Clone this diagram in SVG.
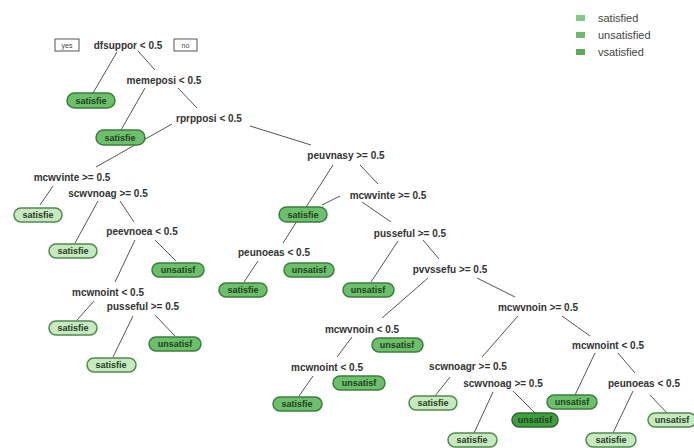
<svg xmlns="http://www.w3.org/2000/svg" width="694" height="448" viewBox="0 0 694 448">
<style>
.sp{font-family:"Liberation Sans",Arial,sans-serif;font-size:10px;font-weight:bold;fill:#333;text-anchor:middle}
.lf{font-family:"Liberation Sans",Arial,sans-serif;font-size:9px;font-weight:bold;fill:#1f3f1f;text-anchor:middle}
.mid{fill:#6cc06c;stroke:#3d7d3d;stroke-width:1.5}
.lt{fill:#c8e8c0;stroke:#4f8a4f;stroke-width:1.5}
.dk{fill:#3f9f3f;stroke:#2d6a2d;stroke-width:1.5}
.yn{fill:#fff;stroke:#555;stroke-width:1}
.ynt{font-family:"Liberation Sans",Arial,sans-serif;font-size:7px;fill:#444;text-anchor:middle}
.lg{font-family:"Liberation Sans",Arial,sans-serif;font-size:11px;fill:#444}
#edges line{stroke:#555;stroke-width:1}
</style>
<rect width="694" height="448" fill="#fff"/>
<g id="edges">
<line x1="117" y1="52" x2="93" y2="93"/>
<line x1="138" y1="51" x2="155" y2="70"/>
<line x1="145" y1="88" x2="121" y2="130"/>
<line x1="178" y1="88" x2="197" y2="108"/>
<line x1="172" y1="124" x2="96" y2="167"/>
<line x1="250" y1="126" x2="311" y2="145"/>
<line x1="53" y1="186" x2="40" y2="205"/>
<line x1="98" y1="201" x2="75" y2="243"/>
<line x1="120" y1="201" x2="134" y2="222"/>
<line x1="135" y1="240" x2="115" y2="282"/>
<line x1="155" y1="240" x2="176" y2="261"/>
<line x1="94" y1="301" x2="77" y2="320"/>
<line x1="133" y1="316" x2="113" y2="357"/>
<line x1="155" y1="315" x2="175" y2="336"/>
<line x1="333" y1="165" x2="283" y2="243"/>
<line x1="340" y1="196" x2="322" y2="205"/>
<line x1="360" y1="165" x2="378" y2="184"/>
<line x1="362" y1="202" x2="391" y2="222"/>
<line x1="258" y1="261" x2="244" y2="282"/>
<line x1="398" y1="241" x2="371" y2="282"/>
<line x1="423" y1="240" x2="439" y2="259"/>
<line x1="428" y1="278" x2="382" y2="318"/>
<line x1="477" y1="278" x2="515" y2="297"/>
<line x1="352" y1="337" x2="337" y2="357"/>
<line x1="313" y1="376" x2="299" y2="396"/>
<line x1="518" y1="316" x2="482" y2="357"/>
<line x1="562" y1="316" x2="590" y2="336"/>
<line x1="450" y1="377" x2="435" y2="396"/>
<line x1="493" y1="392" x2="474" y2="433"/>
<line x1="513" y1="391" x2="535" y2="413"/>
<line x1="595" y1="353" x2="575" y2="395"/>
<line x1="618" y1="353" x2="635" y2="373"/>
<line x1="633" y1="391" x2="613" y2="433"/>
<line x1="650" y1="395" x2="667" y2="413"/>
</g>
<g id="n1"><rect class="yn" x="55" y="39" width="24" height="12"/><text class="ynt" x="67" y="48">yes</text><text class="sp" x="128" y="49">dfsuppor &lt; 0.5</text><rect class="yn" x="174" y="39" width="23" height="12"/><text class="ynt" x="185.5" y="48">no</text></g>
<g id="n2"><rect class="mid" x="67" y="93" width="48" height="15" rx="7.5"/><text class="lf" x="91" y="104">satisfie</text></g>
<g id="n3"><text class="sp" x="164" y="84">memeposi &lt; 0.5</text></g>
<g id="n4"><rect class="mid" x="96" y="130" width="49" height="15" rx="7.5"/><text class="lf" x="120" y="141">satisfie</text></g>
<g id="n5"><text class="sp" x="209" y="122">rprpposi &lt; 0.5</text></g>
<g id="n6"><text class="sp" x="72" y="181">mcwvinte &gt;= 0.5</text></g>
<g id="n7"><rect class="lt" x="14" y="208" width="48" height="14" rx="7"/><text class="lf" x="38" y="218">satisfie</text></g>
<g id="n8"><text class="sp" x="108" y="197">scwvnoag &gt;= 0.5</text></g>
<g id="n9"><rect class="lt" x="49" y="244" width="48" height="14" rx="7"/><text class="lf" x="73" y="254">satisfie</text></g>
<g id="n10"><text class="sp" x="142" y="235">peevnoea &lt; 0.5</text></g>
<g id="n11"><rect class="mid" x="152" y="263" width="52" height="14" rx="7"/><text class="lf" x="178" y="273">unsatisf</text></g>
<g id="n12"><text class="sp" x="108" y="296">mcwnoint &lt; 0.5</text></g>
<g id="n13"><rect class="lt" x="49" y="321" width="48" height="14" rx="7"/><text class="lf" x="73" y="331">satisfie</text></g>
<g id="n14"><text class="sp" x="143" y="310">pusseful &gt;= 0.5</text></g>
<g id="n15"><rect class="lt" x="87" y="358" width="49" height="14" rx="7"/><text class="lf" x="111" y="368">satisfie</text></g>
<g id="n16"><rect class="mid" x="149" y="337" width="52" height="14" rx="7"/><text class="lf" x="175" y="347">unsatisf</text></g>
<g id="n17"><text class="sp" x="346" y="159">peuvnasy &gt;= 0.5</text></g>
<g id="n18"><rect class="mid" x="279" y="207" width="48" height="15" rx="7.5"/><text class="lf" x="303" y="218">satisfie</text></g>
<g id="n19"><text class="sp" x="388" y="199">mcwvinte &gt;= 0.5</text></g>
<g id="n20"><text class="sp" x="274" y="256">peunoeas &lt; 0.5</text></g>
<g id="n21"><rect class="mid" x="219" y="283" width="48" height="14" rx="7"/><text class="lf" x="243" y="293">satisfie</text></g>
<g id="n22"><rect class="mid" x="284" y="263" width="50" height="14" rx="7"/><text class="lf" x="309" y="273">unsatisf</text></g>
<g id="n23"><text class="sp" x="410" y="237">pusseful &gt;= 0.5</text></g>
<g id="n24"><rect class="mid" x="343" y="283" width="51" height="14" rx="7"/><text class="lf" x="368" y="293">unsatisf</text></g>
<g id="n25"><text class="sp" x="450" y="273">pvvssefu &gt;= 0.5</text></g>
<g id="n26"><text class="sp" x="362" y="333">mcwvnoin &lt; 0.5</text></g>
<g id="n27"><rect class="mid" x="372" y="338" width="51" height="14" rx="7"/><text class="lf" x="397" y="348">unsatisf</text></g>
<g id="n28"><text class="sp" x="327" y="371">mcwnoint &lt; 0.5</text></g>
<g id="n29"><rect class="mid" x="273" y="397" width="49" height="14" rx="7"/><text class="lf" x="297" y="407">satisfie</text></g>
<g id="n30"><rect class="mid" x="333" y="376" width="52" height="14" rx="7"/><text class="lf" x="359" y="386">unsatisf</text></g>
<g id="n31"><text class="sp" x="538" y="311">mcwvnoin &gt;= 0.5</text></g>
<g id="n32"><text class="sp" x="468" y="370">scwnoagr &gt;= 0.5</text></g>
<g id="n33"><rect class="lt" x="409" y="396" width="48" height="14" rx="7"/><text class="lf" x="433" y="406">satisfie</text></g>
<g id="n34"><text class="sp" x="503" y="387">scwvnoag &gt;= 0.5</text></g>
<g id="n35"><rect class="lt" x="448" y="433" width="49" height="14" rx="7"/><text class="lf" x="472" y="443">satisfie</text></g>
<g id="n36"><rect class="dk" x="512" y="413" width="46" height="14" rx="7"/><text class="lf" x="535" y="423">unsatisf</text></g>
<g id="n37"><text class="sp" x="608" y="349">mcwnoint &lt; 0.5</text></g>
<g id="n38"><rect class="mid" x="547" y="395" width="50" height="14" rx="7"/><text class="lf" x="572" y="405">unsatisf</text></g>
<g id="n39"><text class="sp" x="644" y="387">peunoeas &lt; 0.5</text></g>
<g id="n40"><rect class="lt" x="586" y="433" width="50" height="14" rx="7"/><text class="lf" x="611" y="443">satisfie</text></g>
<g id="n41"><rect class="lt" x="648" y="413" width="48" height="14" rx="7"/><text class="lf" x="672" y="423">unsatisf</text></g>
<g id="legend">
<rect x="576" y="15" width="9" height="6" fill="#86c886"/>
<rect x="576" y="32" width="9" height="6" fill="#6dba6d"/>
<rect x="576" y="49" width="9" height="6" fill="#5aaa5a"/>
<text class="lg" x="598" y="22">satisfied</text>
<text class="lg" x="598" y="39">unsatisfied</text>
<text class="lg" x="598" y="56">vsatisfied</text>
</g>
</svg>
